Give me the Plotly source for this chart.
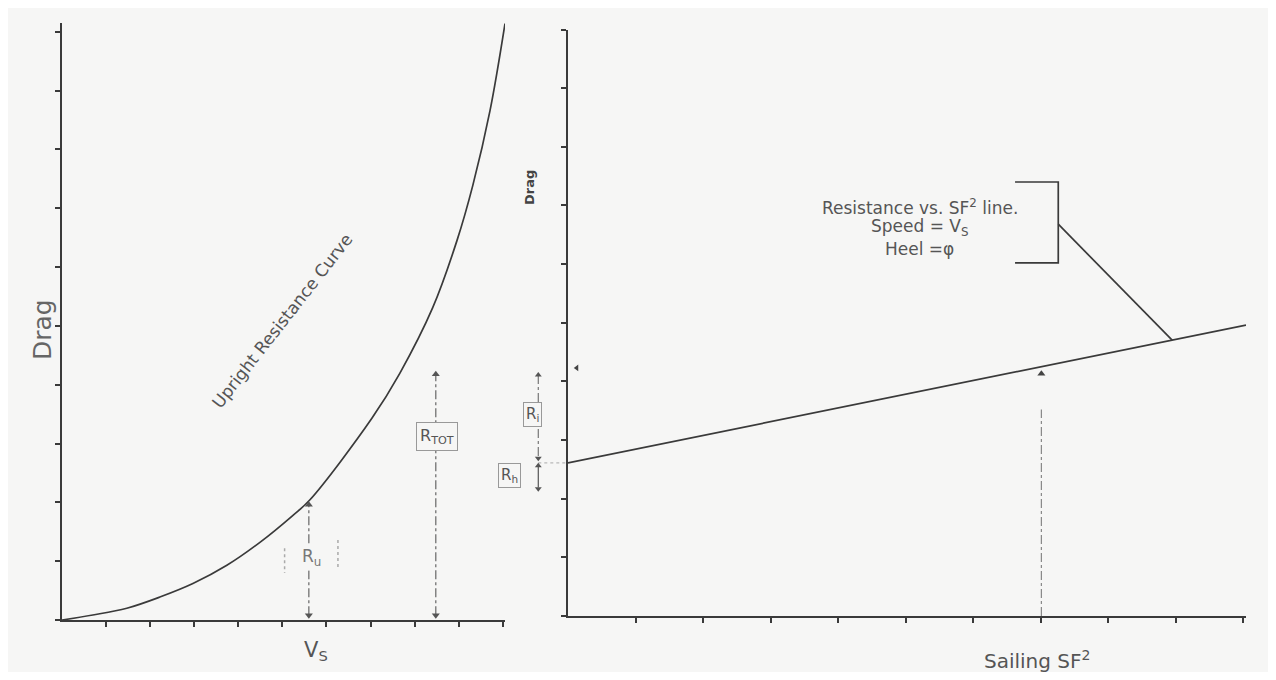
import plotly.graph_objects as go

# the page body adds an 8px margin, so the figure is drawn 8px in from the window edge
OFF = 8
W, H = 1260, 664
BG = "#f6f6f5"
INK = "#3a3a3a"
TXT = "#555555"
FONT = "DejaVu Sans, Arial, sans-serif"


def px(xs):
    return (xs - OFF) / W


def py(ys):
    return 1 - (ys - OFF) / H


# ---------------- data: left panel (upright resistance curve) ----------------
speed = [0, 0.70, 1.47, 2.22, 2.97, 3.74, 4.49, 5.24, 5.62, 7.03, 7.66, 8.41, 8.96, 9.32, 9.71, 10.05]
upright_drag = [0, 0.085, 0.20, 0.39, 0.62, 0.93, 1.32, 1.78, 2.04, 3.43, 4.19, 5.31, 6.45, 7.39, 8.66, 10.14]
left_xticks = [1, 2, 3, 4, 5, 6, 7, 8, 9, 10]
left_yticks = [0, 1, 2, 3, 4, 5, 6, 7, 8, 9, 10]

vs_speed = 5.60          # V_S
ru_top = 2.04            # R_u at V_S
rtot_speed = 8.48
rtot_top = 4.26

# ---------------- data: right panel (resistance vs SF^2) ----------------
sf2 = [0, 10.04]
sf_drag = [2.61, 4.96]
right_xticks = [1, 2, 3, 4, 5, 6, 7, 8, 9, 10]
right_yticks = [0, 1, 2, 3, 4, 5, 6, 7, 8, 9, 10]

sailing_sf2 = 7.01
sailing_top = 4.19
sailing_dash_top = 3.52
leader_x = [7.26, 8.95]
leader_y = [6.68, 4.70]
bracket_x = [6.62, 7.26, 7.26, 6.62]
bracket_y = [7.40, 7.40, 6.02, 6.02]
ri_top = 4.19
rh_top = 2.61
rh_bottom = 2.11
ri_x = -0.44

fig = go.Figure()

# left curve
fig.add_trace(go.Scatter(x=speed, y=upright_drag, mode="lines", line=dict(color=INK, width=1.7, shape="spline"),
                         xaxis="x", yaxis="y", hoverinfo="skip"))
# R_u dash-dot
fig.add_trace(go.Scatter(x=[vs_speed, vs_speed], y=[0.08, ru_top - 0.08], mode="lines",
                         line=dict(color="#666", width=1.2, dash="dashdot"), xaxis="x", yaxis="y"))
fig.add_trace(go.Scatter(x=[vs_speed, vs_speed], y=[ru_top - 0.08, 0.08], mode="markers",
                         marker=dict(symbol=["triangle-up", "triangle-down"], size=7, color="#555"),
                         xaxis="x", yaxis="y", cliponaxis=False))
# R_u side dashes
fig.add_trace(go.Scatter(x=[5.05, 5.05, None, 6.26, 6.26], y=[1.22, 0.80, None, 1.36, 0.85], mode="lines",
                         line=dict(color="#aaa", width=1.5, dash="dot"), xaxis="x", yaxis="y"))
# R_tot dash-dot
fig.add_trace(go.Scatter(x=[rtot_speed, rtot_speed], y=[0.08, rtot_top - 0.08], mode="lines",
                         line=dict(color="#666", width=1.2, dash="dashdot"), xaxis="x", yaxis="y"))
fig.add_trace(go.Scatter(x=[rtot_speed, rtot_speed], y=[rtot_top - 0.08, 0.08], mode="markers",
                         marker=dict(symbol=["triangle-up", "triangle-down"], size=7, color="#555"),
                         xaxis="x", yaxis="y", cliponaxis=False))

# right line
fig.add_trace(go.Scatter(x=sf2, y=sf_drag, mode="lines", line=dict(color=INK, width=1.7),
                         xaxis="x2", yaxis="y2"))
fig.add_trace(go.Scatter(x=leader_x, y=leader_y, mode="lines", line=dict(color=INK, width=1.7),
                         xaxis="x2", yaxis="y2"))
fig.add_trace(go.Scatter(x=bracket_x, y=bracket_y, mode="lines", line=dict(color=INK, width=1.7),
                         xaxis="x2", yaxis="y2"))
# sailing SF2 dash-dot
fig.add_trace(go.Scatter(x=[sailing_sf2, sailing_sf2], y=[0, sailing_dash_top], mode="lines",
                         line=dict(color="#888", width=1.2, dash="dashdot"), xaxis="x2", yaxis="y2"))
fig.add_trace(go.Scatter(x=[sailing_sf2], y=[sailing_top - 0.06], mode="markers",
                         marker=dict(symbol="triangle-up", size=7, color="#444"), xaxis="x2", yaxis="y2"))
fig.add_trace(go.Scatter(x=[0.13], y=[4.23], mode="markers",
                         marker=dict(symbol="triangle-left", size=6, color="#444"), xaxis="x2", yaxis="y2",
                         cliponaxis=False))

# left-of-axis R_i / R_h (on an invisible extended x axis sharing y2)
fig.add_trace(go.Scatter(x=[ri_x, ri_x], y=[ri_top - 0.08, rh_top + 0.1], mode="lines",
                         line=dict(color="#777", width=1.2, dash="dashdot"), xaxis="x3", yaxis="y2"))
fig.add_trace(go.Scatter(x=[ri_x, ri_x], y=[rh_top - 0.05, rh_bottom + 0.08], mode="lines",
                         line=dict(color="#555", width=1.2), xaxis="x3", yaxis="y2"))
fig.add_trace(go.Scatter(x=[ri_x, 0], y=[rh_top, rh_top], mode="lines",
                         line=dict(color="#aaa", width=1, dash="dot"), xaxis="x3", yaxis="y2"))
fig.add_trace(go.Scatter(x=[ri_x, ri_x, ri_x, ri_x], y=[ri_top - 0.08, rh_top + 0.08, rh_top - 0.05, rh_bottom + 0.06],
                         mode="markers",
                         marker=dict(symbol=["triangle-up", "triangle-down", "triangle-up", "triangle-down"],
                                     size=6, color="#555"),
                         xaxis="x3", yaxis="y2", cliponaxis=False))

ax_common = dict(showgrid=False, zeroline=False, showline=True, linecolor=INK, linewidth=2,
                 ticks="outside", ticklen=5, tickwidth=2, tickcolor=INK, showticklabels=False, fixedrange=True)

x2_dom = [px(568), px(1246)]
x3_dom = [px(508), px(1246)]
x2_rng = [0, 10.04]
x3_min = x2_rng[1] - (x2_rng[1] - x2_rng[0]) * (x3_dom[1] - x3_dom[0]) / (x2_dom[1] - x2_dom[0])

fig.update_layout(
    width=W, height=H, margin=dict(l=0, r=0, t=0, b=0),
    paper_bgcolor=BG, plot_bgcolor="rgba(0,0,0,0)", showlegend=False,
    font=dict(family=FONT, color=TXT),
    xaxis=dict(domain=[px(62), px(505)], range=[0, 10.05], anchor="y", tickvals=left_xticks, **ax_common),
    yaxis=dict(domain=[py(620), py(23)], range=[0, 10.15], anchor="x", tickvals=left_yticks, **ax_common),
    xaxis2=dict(domain=x2_dom, range=x2_rng, anchor="y2", tickvals=right_xticks, **ax_common),
    yaxis2=dict(domain=[py(616), py(29.5)], range=[0, 10], anchor="x2", tickvals=right_yticks, **ax_common),
    xaxis3=dict(domain=x3_dom, range=[x3_min, x2_rng[1]], anchor="y2", visible=False, fixedrange=True),
)

C = dict(xanchor="center", yanchor="middle", showarrow=False)
ann = []
# left panel texts
ann.append(dict(text="Drag", xref="paper", yref="paper", x=px(42), y=py(330), textangle=-90,
                font=dict(size=25, color="#666"), **C))
ann.append(dict(text="V<sub>S</sub>", xref="paper", yref="paper", x=px(316), y=py(651),
                font=dict(size=21, color="#555"), **C))
ann.append(dict(text="Upright Resistance Curve", xref="x", yref="y", x=4.99, y=5.09, textangle=-52,
                font=dict(size=17, color="#555"), **C))
ann.append(dict(text="R<sub>TOT</sub>", xref="x", yref="y", x=8.50, y=3.12,
                font=dict(size=16, color="#555"), bgcolor=BG, bordercolor="#999", borderwidth=1, borderpad=3, **C))
ann.append(dict(text="R<sub>u</sub>", xref="x", yref="y", x=5.65, y=1.07,
                font=dict(size=17, color="#777"), bgcolor=BG, **C))
# right panel texts
ann.append(dict(text="<b>Drag</b>", xref="paper", yref="paper", x=px(529), y=py(188), textangle=-90,
                font=dict(size=13, color="#444"), **C))
ann.append(dict(text="Sailing SF<sup>2</sup>", xref="paper", yref="paper", x=px(1037), y=py(660),
                font=dict(size=20, color="#555"), **C))
ann.append(dict(text="Resistance vs. SF<sup>2</sup> line.", xref="x2", yref="y2", x=5.21, y=6.98,
                font=dict(size=17, color="#555"), **C))
ann.append(dict(text="Speed = V<sub>S</sub>", xref="x2", yref="y2", x=5.21, y=6.62,
                font=dict(size=17, color="#555"), **C))
ann.append(dict(text="Heel =φ", xref="x2", yref="y2", x=5.21, y=6.26,
                font=dict(size=17, color="#555"), **C))
ann.append(dict(text="R<sub>i</sub>", xref="x3", yref="y2", x=-0.52, y=3.43,
                font=dict(size=15, color="#555"), bgcolor=BG, bordercolor="#999", borderwidth=1, borderpad=2, **C))
ann.append(dict(text="R<sub>h</sub>", xref="x3", yref="y2", x=-0.86, y=2.39,
                font=dict(size=15, color="#555"), bordercolor="#999", borderwidth=1, borderpad=2, **C))
fig.update_layout(annotations=ann)

fig.write_html("out.html")
